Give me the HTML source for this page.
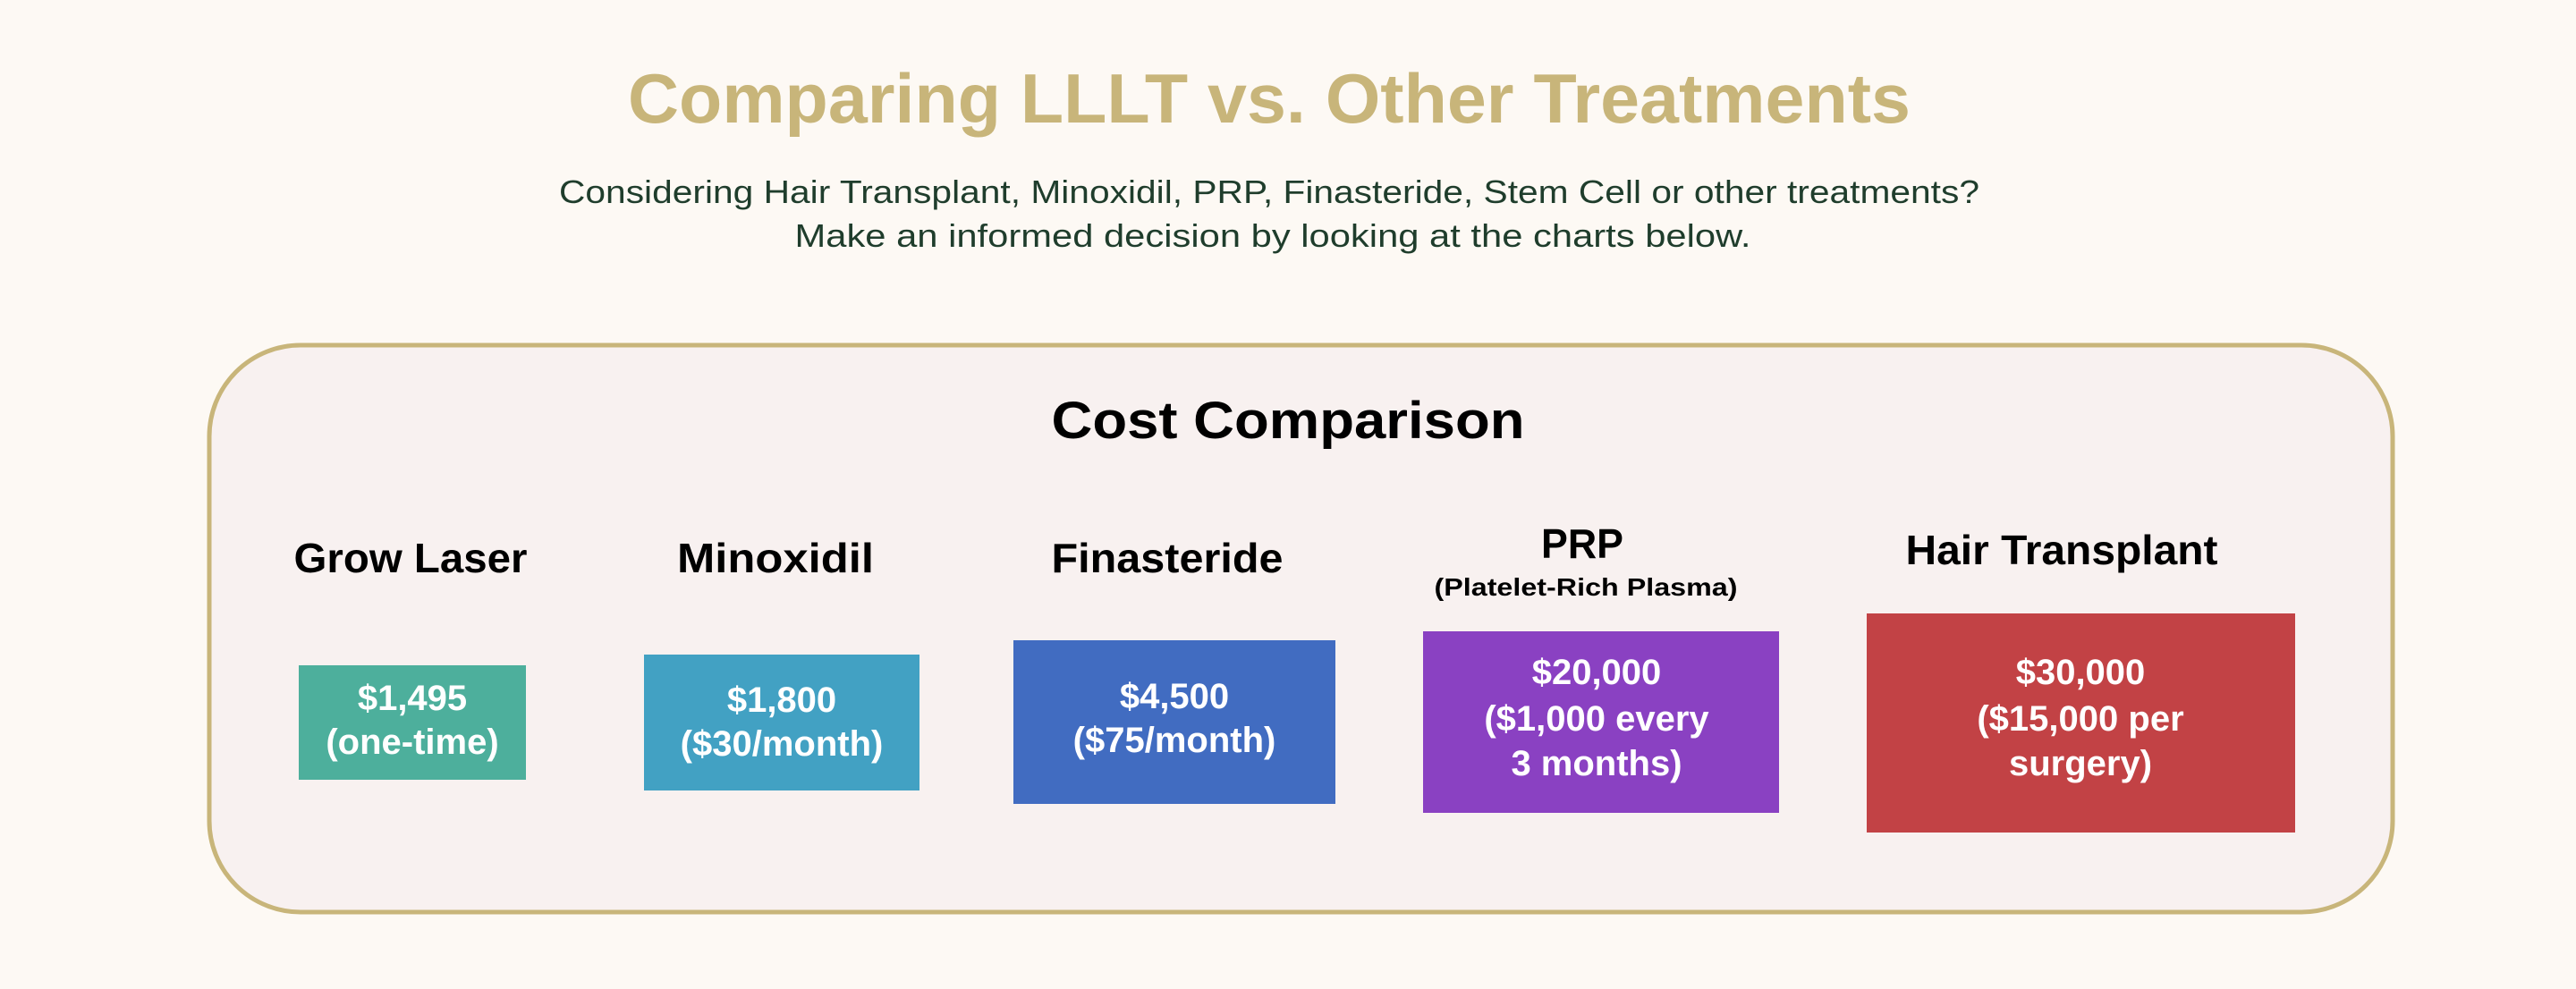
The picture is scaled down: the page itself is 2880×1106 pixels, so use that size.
<!DOCTYPE html>
<html><head><meta charset="utf-8"><style>
html,body{margin:0;padding:0;background:#fdf9f4;}
svg{display:block;}
</style></head><body>
<svg width="2880" height="1106" viewBox="0 0 2880 1106" xmlns="http://www.w3.org/2000/svg" font-family="Liberation Sans, sans-serif" font-weight="bold">
<rect width="2880" height="1106" fill="#fdf9f4"/>
<text x="1419" y="137" font-size="78" fill="#c8b57a" text-anchor="middle" textLength="1434" lengthAdjust="spacingAndGlyphs">Comparing LLLT vs. Other Treatments</text>
<text x="1419" y="227" font-size="36" font-weight="normal" fill="#1f3d2c" text-anchor="middle" textLength="1588" lengthAdjust="spacingAndGlyphs">Considering Hair Transplant, Minoxidil, PRP, Finasteride, Stem Cell or other treatments?</text>
<text x="1423" y="276" font-size="36" font-weight="normal" fill="#1f3d2c" text-anchor="middle" textLength="1069" lengthAdjust="spacingAndGlyphs">Make an informed decision by looking at the charts below.</text>
<rect x="234" y="386" width="2441" height="634" rx="102" ry="102" fill="#f8f1f0" stroke="#c8b57a" stroke-width="5"/>
<text x="1440" y="490" font-size="58" fill="#000" text-anchor="middle" textLength="529" lengthAdjust="spacingAndGlyphs">Cost Comparison</text>
<g font-size="46" fill="#000" text-anchor="middle">
<text x="459" y="640" textLength="261" lengthAdjust="spacingAndGlyphs">Grow Laser</text>
<text x="867" y="640" textLength="220" lengthAdjust="spacingAndGlyphs">Minoxidil</text>
<text x="1305" y="640" textLength="259" lengthAdjust="spacingAndGlyphs">Finasteride</text>
<text x="1769" y="624" textLength="92" lengthAdjust="spacingAndGlyphs">PRP</text>
<text x="1773" y="666" font-size="28" textLength="339" lengthAdjust="spacingAndGlyphs">(Platelet-Rich Plasma)</text>
<text x="2305" y="631" textLength="349" lengthAdjust="spacingAndGlyphs">Hair Transplant</text>
</g>
<rect x="334" y="744" width="254" height="128" fill="#4daf9c"/>
<rect x="720" y="732" width="308" height="152" fill="#42a1c3"/>
<rect x="1133" y="716" width="360" height="183" fill="#416cc1"/>
<rect x="1591" y="706" width="398" height="203" fill="#8a41c2"/>
<rect x="2087" y="686" width="479" height="245" fill="#c24245"/>
<g font-size="40" fill="#fff" text-anchor="middle">
<text x="461" y="794">$1,495</text>
<text x="461" y="843">(one-time)</text>
<text x="874" y="796">$1,800</text>
<text x="874" y="845">($30/month)</text>
<text x="1313" y="792">$4,500</text>
<text x="1313" y="841">($75/month)</text>
<text x="1785" y="765">$20,000</text>
<text x="1785" y="817">($1,000 every</text>
<text x="1785" y="867">3 months)</text>
<text x="2326" y="765">$30,000</text>
<text x="2326" y="817">($15,000 per</text>
<text x="2326" y="867">surgery)</text>
</g>
</svg>
</body></html>
